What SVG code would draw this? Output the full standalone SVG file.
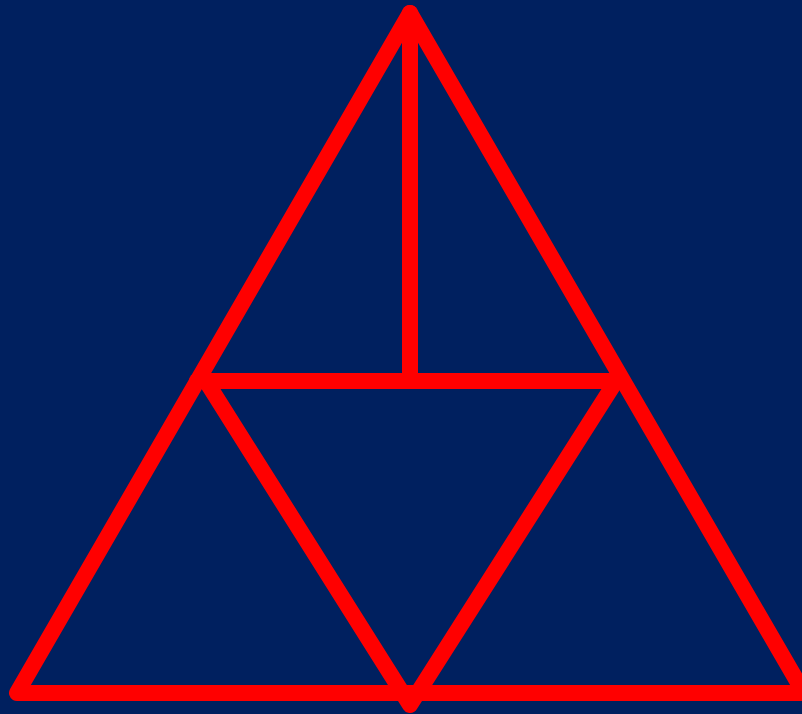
<svg xmlns="http://www.w3.org/2000/svg" width="802" height="714" viewBox="0 0 802 714">
<style>.e{fill:none;stroke:#ff0000;stroke-width:16;stroke-linecap:round;stroke-linejoin:round}</style>
<rect width="802" height="714" fill="#00205f"/>
<g id="connectors">
<path class="e" d="M410,13 L17,693 L804,693 Z"/>
<path class="e" d="M197,381 L621,381"/>
<path class="e" d="M410,13 L410,381"/>
<path class="e" d="M206,381 L410,705 L616,381"/>
</g>
</svg>
